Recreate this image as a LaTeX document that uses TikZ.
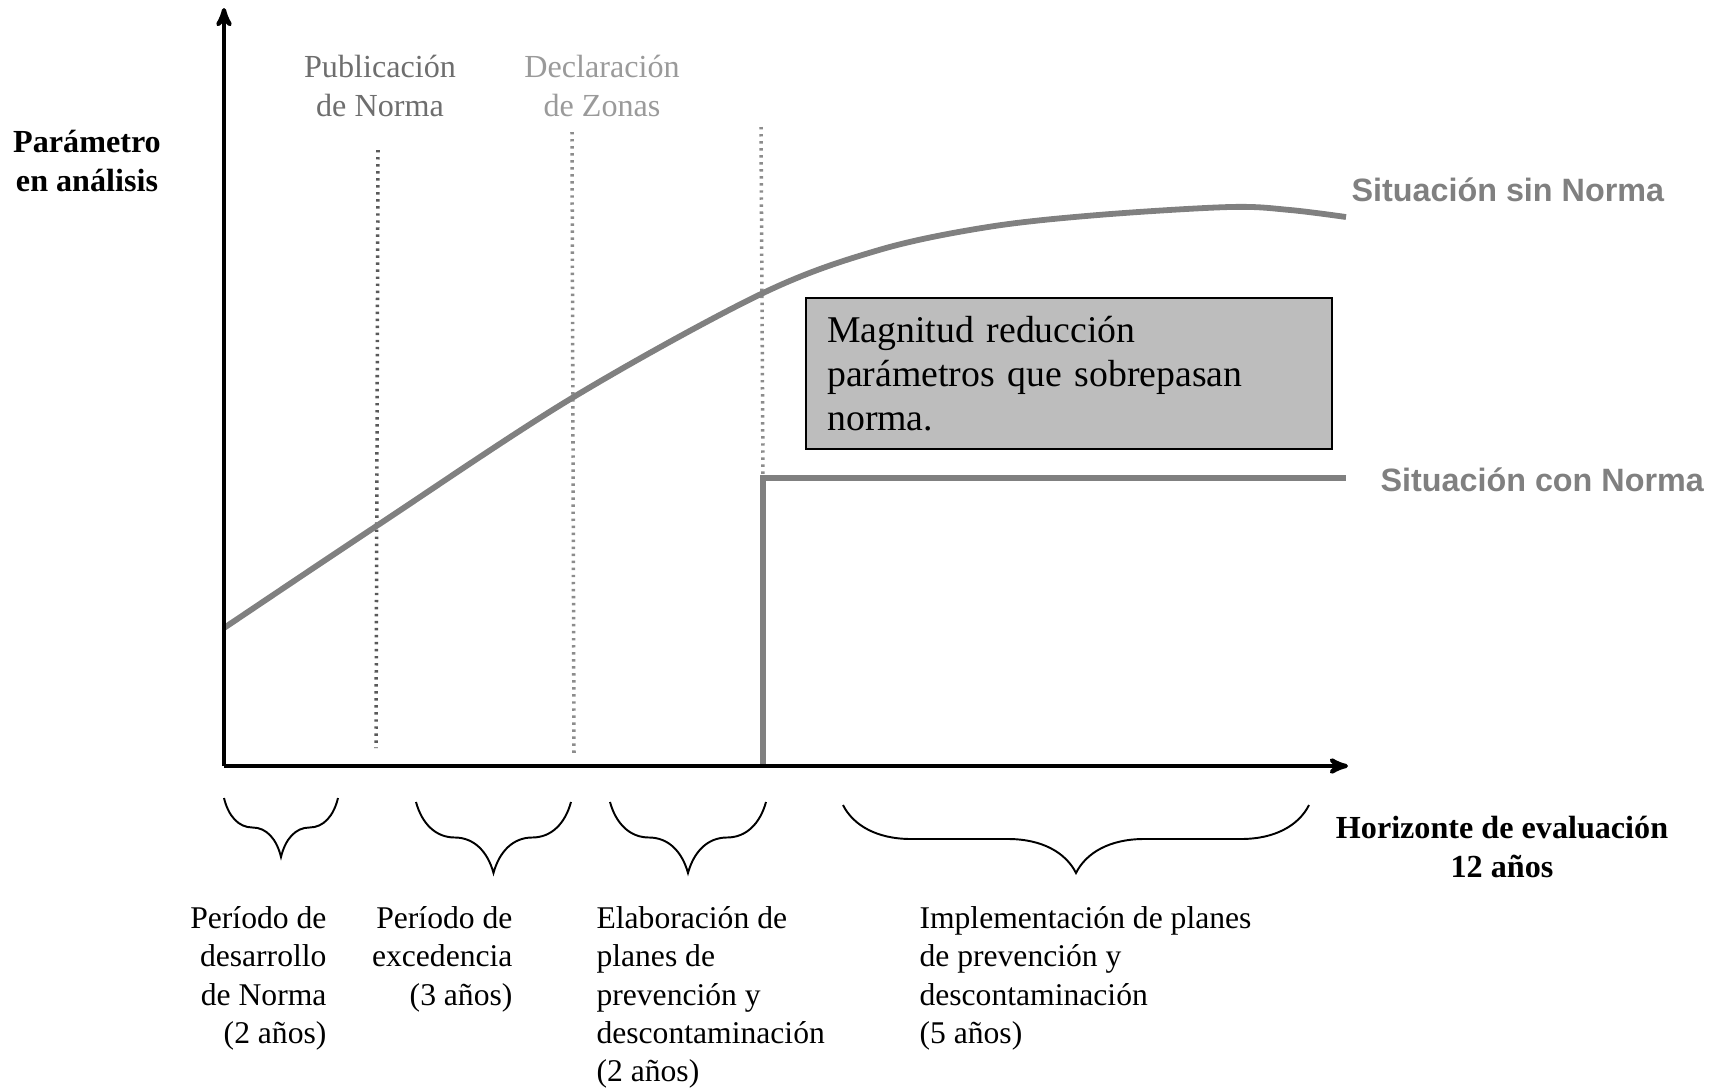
\documentclass[tikz,border=0pt]{standalone}
\usepackage{fontspec}
\setmainfont{Liberation Serif}
\setsansfont{Liberation Sans}
\usetikzlibrary{arrows,decorations.pathreplacing}
\definecolor{curvegray}{HTML}{808080}
\definecolor{pubgray}{HTML}{6E6E6E}
\definecolor{declgray}{HTML}{9A9A9A}

\begin{document}
\begin{tikzpicture}[>=stealth',x=0.02cm,y=-0.02cm,semithick]
\tikzstyle{axis line}=[line width=2.4pt,->]
\tikzstyle{cut line}=[black!65,line width=2pt,dash pattern=on 1.4pt off 2.6pt]
\tikzstyle{curve line}=[curvegray,line width=3.3pt]
\tikzstyle{box node}=[rectangle,draw,line width=1.4pt,fill=black!26,inner xsep=0.42cm,anchor=north west,minimum width=10.52cm,minimum height=3.02cm,text width=9.68cm,align=left]

\tikzset{
	period label/.style={inner sep=0,font=\fontsize{18}{21.8}\selectfont},
	event label/.style={inner sep=0,align=center,font=\fontsize{18.3}{21.8}\selectfont},
	axis label/.style={inner sep=0,align=center,font=\bfseries\fontsize{18.3}{21.8}\selectfont},
	case label/.style={inner sep=0,anchor=west,text=curvegray,font=\sffamily\bfseries\fontsize{18.4}{22}\selectfont},
	period brace/.style={decorate,decoration={brace,mirror,amplitude=#1},line width=1.1pt}
}

\useasboundingbox (0,0) rectangle (1722,1090);

    \coordinate (O) at (224,766);
    \coordinate (ytip) at (224,8);
    \coordinate (xtip) at (1348,766);
    \coordinate (c1a) at (378,150);
    \coordinate (c1b) at (376,748);
    \coordinate (c2a) at (572,132);
    \coordinate (c2b) at (574,755);
    \coordinate (c3a) at (761,127);
    \coordinate (s0) at (763,766);
    \coordinate (s1) at (763,478);
    \coordinate (s2) at (1346,478);

    \node[axis label,anchor=north] (param) at (87,130) {Parámetro\\en análisis};
    \node[axis label,anchor=north] (horiz) at (1502,816) {Horizonte de evaluación\\12 años};
    \node[event label,anchor=north,text=pubgray] (pub) at (380,55) {Publicación\\de Norma};
    \node[event label,anchor=north,text=declgray] (decl) at (602,55) {Declaración\\de Zonas};
    \node[case label] (sin) at (1351,190) {Situación sin Norma};
    \node[case label] (con) at (1380,480) {Situación con Norma};
    \node[box node,font=\fontsize{21.5}{25.2}\selectfont] (reduc) at (805,297) {Magnitud reducción\\parámetros que sobrepasan\\norma.};

    \draw[cut line] (c1a) -- (c1b);
    \draw[cut line,black!45] (c2a) -- (c2b);
    \draw[cut line,black!45] (c3a) -- (s1);

    \draw[curve line] plot[smooth,tension=0.55] coordinates {(224,628) (378,525) (572,398) (761,294) (879,250) (988,227) (1098,215) (1230,207) (1290,210) (1346,217)};
    \draw[curve line] (s0) -- (s1) -- (s2);

    \draw[axis line] (O) -- (ytip);
    \draw[axis line] (O) -- (xtip);

    \coordinate (b1l) at (224,798);
    \coordinate (b1r) at (338,798);
    \coordinate (b2l) at (416,802);
    \coordinate (b2r) at (571,802);
    \coordinate (b3l) at (610,802);
    \coordinate (b3r) at (766,802);
    \coordinate (b4l) at (843,805);
    \coordinate (b4r) at (1309,805);
    \draw[period brace=1.18cm] (b1l) -- (b1r);
    \draw[period brace=1.42cm] (b2l) -- (b2r);
    \draw[period brace=1.42cm] (b3l) -- (b3r);
    \draw[period brace=1.36cm] (b4l) -- (b4r);

    \node[period label,anchor=north east,align=right] (p1) at (327,906) {Período de\\desarrollo\\de Norma\\(2 años)};
    \node[period label,anchor=north east,align=right] (p2) at (513,906) {Período de\\excedencia\\(3 años)};
    \node[period label,anchor=north west,align=left] (p3) at (596,906) {Elaboración de\\planes de\\prevención y\\descontaminación\\(2 años)};
    \node[period label,anchor=north west,align=left] (p4) at (919,906) {Implementación de planes\\de prevención y\\descontaminación\\(5 años)};
\end{tikzpicture}
\end{document}
